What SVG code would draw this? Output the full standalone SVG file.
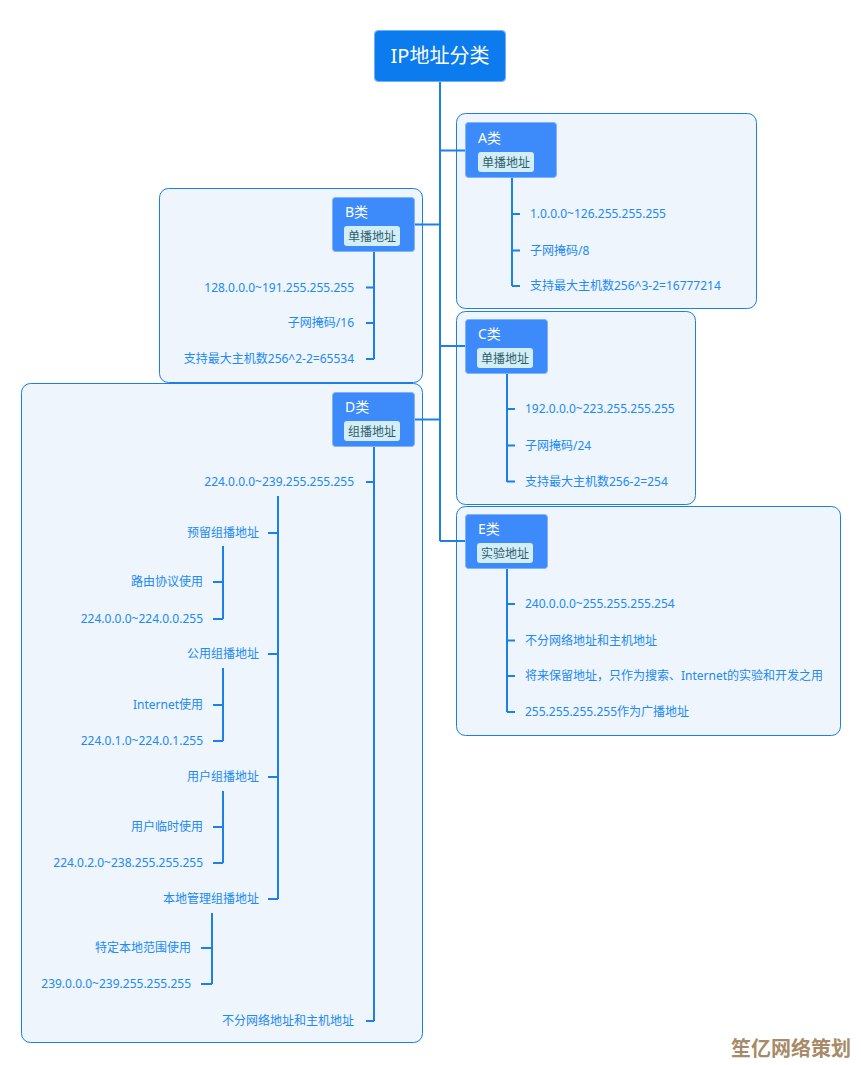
<svg xmlns="http://www.w3.org/2000/svg" width="861" height="1065" viewBox="0 0 861 1065">
<style>
.cont{fill:#eef5fd;stroke:#1b7fe6;stroke-width:1}
.node{fill:#3d8bfb;stroke:#7fb3fb;stroke-width:1}
.tag{fill:#d4eef7}
.title{font-family:"Noto Sans","Noto Sans CJK SC",sans-serif;font-size:14px;fill:#ffffff}
.tagt{font-family:"Noto Sans","Noto Sans CJK SC",sans-serif;font-size:12px;fill:#2f5d6b}
.lbl{font-family:"Noto Sans","Noto Sans CJK SC",sans-serif;font-size:12px;fill:#2189f2}
.r{text-anchor:end}
.ln{fill:none;stroke:#1b80ea;stroke-width:2}
</style>
<rect width="861" height="1065" fill="#ffffff"/>
<g id="containers">
<rect class="cont" x="456.5" y="113.5" width="300" height="195" rx="9"/>
<rect class="cont" x="159.5" y="188.5" width="263" height="194" rx="9"/>
<rect class="cont" x="456.5" y="311.5" width="239" height="193" rx="9"/>
<rect class="cont" x="21.5" y="383.5" width="401" height="659" rx="9"/>
<rect class="cont" x="456.5" y="506.5" width="384" height="229" rx="9"/>
</g>
<g id="connectors">
<path class="ln" d="M440 82V541M440 150.5H465M440 224.5H415M440 346H465M440 419.5H415M440 541H465"/>
<path class="ln" d="M512 178V286M512 214H520M512 250.5H520M512 286H520"/>
<path class="ln" d="M374 252V359M374 287.5H366M374 323H366M374 359H366"/>
<path class="ln" d="M507 373V482M507 409H515M507 445.5H515M507 481.5H515"/>
<path class="ln" d="M507 568V712M507 604H515M507 640.5H515M507 676H515M507 712H515"/>
<path class="ln" d="M374 447V1021M374 482H366M374 1021H366"/>
<path class="ln" d="M278 496V899M278 533H268M278 654H268M278 777H268M278 899H268"/>
<path class="ln" d="M223 546V619M223 582H213M223 619H213"/>
<path class="ln" d="M223 668V741M223 705H213M223 741H213"/>
<path class="ln" d="M223 791V863M223 827H213M223 863H213"/>
<path class="ln" d="M212 913V984M212 948H201M212 984H201"/>
</g>
<g id="root">
<rect x="374.5" y="30.5" width="131" height="51" rx="4" fill="#0b7bee" stroke="#6fb0f5" stroke-width="1"/>
<text x="440" y="63" text-anchor="middle" font-family="'Noto Sans','Noto Sans CJK SC',sans-serif" font-size="20" fill="#ffffff">IP地址分类</text>
</g>
<g id="nodeA">
<rect class="node" x="465.5" y="122.5" width="91" height="55" rx="3"/>
<text class="title" x="478" y="143">A类</text>
<rect class="tag" x="478" y="152" width="56" height="20" rx="3"/>
<text class="tagt" x="482" y="166.5">单播地址</text>
</g>
<g id="nodeA-items">
<text class="lbl" x="530" y="218">1.0.0.0~126.255.255.255</text>
<text class="lbl" x="530" y="254.5">子网掩码/8</text>
<text class="lbl" x="530" y="290">支持最大主机数256^3-2=16777214</text>
</g>
<g id="nodeB">
<rect class="node" x="332.5" y="197.5" width="82" height="54" rx="3"/>
<text class="title" x="345" y="217">B类</text>
<rect class="tag" x="344" y="226" width="56" height="20" rx="3"/>
<text class="tagt" x="348" y="240.5">单播地址</text>
</g>
<g id="nodeB-items">
<text class="lbl r" x="354" y="291.5">128.0.0.0~191.255.255.255</text>
<text class="lbl r" x="354" y="327">子网掩码/16</text>
<text class="lbl r" x="354" y="363">支持最大主机数256^2-2=65534</text>
</g>
<g id="nodeC">
<rect class="node" x="465.5" y="319.5" width="82" height="54" rx="3"/>
<text class="title" x="478" y="339">C类</text>
<rect class="tag" x="477" y="348" width="56" height="20" rx="3"/>
<text class="tagt" x="481" y="362.5">单播地址</text>
</g>
<g id="nodeC-items">
<text class="lbl" x="525" y="413">192.0.0.0~223.255.255.255</text>
<text class="lbl" x="525" y="449.5">子网掩码/24</text>
<text class="lbl" x="525" y="485.5">支持最大主机数256-2=254</text>
</g>
<g id="nodeD">
<rect class="node" x="332.5" y="392.5" width="82" height="54" rx="3"/>
<text class="title" x="345" y="412">D类</text>
<rect class="tag" x="344" y="421" width="56" height="20" rx="3"/>
<text class="tagt" x="348" y="435.5">组播地址</text>
</g>
<g id="nodeD-items">
<text class="lbl r" x="354" y="486">224.0.0.0~239.255.255.255</text>
<text class="lbl r" x="259" y="537">预留组播地址</text>
<text class="lbl r" x="203" y="586">路由协议使用</text>
<text class="lbl r" x="203" y="623">224.0.0.0~224.0.0.255</text>
<text class="lbl r" x="259" y="658">公用组播地址</text>
<text class="lbl r" x="203" y="709">Internet使用</text>
<text class="lbl r" x="203" y="745">224.0.1.0~224.0.1.255</text>
<text class="lbl r" x="259" y="781">用户组播地址</text>
<text class="lbl r" x="203" y="831">用户临时使用</text>
<text class="lbl r" x="203" y="867">224.0.2.0~238.255.255.255</text>
<text class="lbl r" x="259" y="903">本地管理组播地址</text>
<text class="lbl r" x="191" y="952">特定本地范围使用</text>
<text class="lbl r" x="191" y="988">239.0.0.0~239.255.255.255</text>
<text class="lbl r" x="354" y="1025">不分网络地址和主机地址</text>
</g>
<g id="nodeE">
<rect class="node" x="465.5" y="514.5" width="82" height="54" rx="3"/>
<text class="title" x="478" y="534">E类</text>
<rect class="tag" x="477" y="543" width="56" height="20" rx="3"/>
<text class="tagt" x="481" y="557.5">实验地址</text>
</g>
<g id="nodeE-items">
<text class="lbl" x="525" y="608">240.0.0.0~255.255.255.254</text>
<text class="lbl" x="525" y="644.5">不分网络地址和主机地址</text>
<text class="lbl" x="525" y="680">将来保留地址，只作为搜索、Internet的实验和开发之用</text>
<text class="lbl" x="525" y="716">255.255.255.255作为广播地址</text>
</g>
<g id="watermark">
<text x="731" y="1056" font-family="'Noto Sans CJK SC',sans-serif" font-size="20" font-weight="bold" fill="#a78b68">笙亿网络策划</text>
</g>
</svg>
